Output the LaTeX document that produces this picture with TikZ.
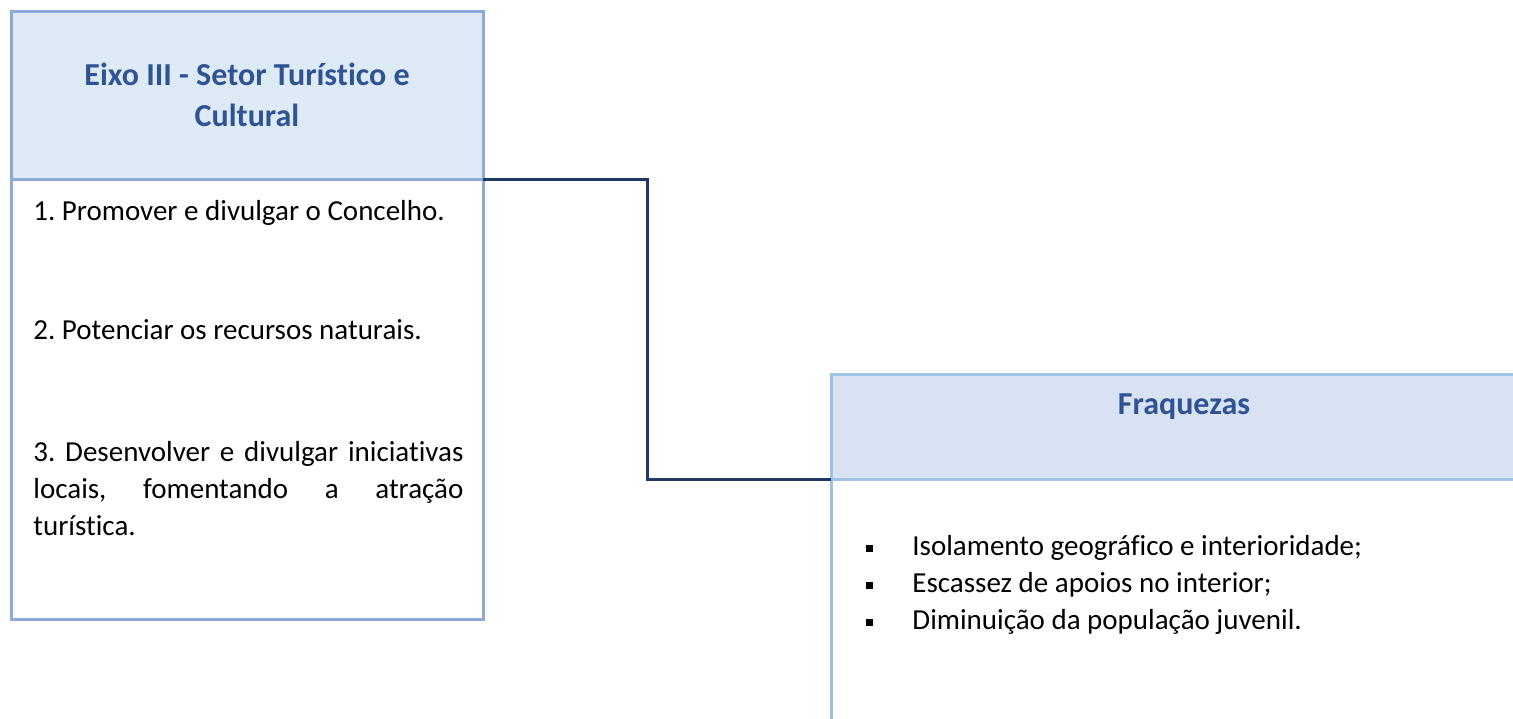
\documentclass[tikz,border=0pt]{standalone}
\usepackage{fontspec}
\setmainfont{Carlito}[Ligatures=NoCommon]
\definecolor{boxline}{HTML}{8EAADB}
\definecolor{boxline2}{HTML}{9DC3E6}
\definecolor{headfill}{HTML}{DEEAF6}
\definecolor{headfill2}{HTML}{D9E2F3}
\definecolor{titleblue}{HTML}{2F5496}
\definecolor{linkblue}{HTML}{1F3864}
\tikzset{
    box/.style = {draw = boxline, line width = 1.5pt, inner sep = 0pt, outer sep = 0pt, anchor = north west},
    headbox/.style = {box, fill = headfill, minimum width = 236pt, minimum height = 84pt,
        align = center, font = \fontsize{16}{20.5}\selectfont\bfseries, text = titleblue},
    bodybox/.style = {box, minimum width = 236pt, minimum height = 220pt},
    itemtxt/.style = {anchor = base west, inner sep = 0pt, font = \fontsize{14.5}{18.5}\selectfont},
    link/.style = {draw = linkblue, line width = 1.5pt},
    bul/.style = {fill = black, inner sep = 0pt, minimum size = 3.5pt}
}
\frenchspacing
\begin{document}
\begin{tikzpicture}[x=0.5pt, y=-0.5pt]
    \useasboundingbox (0, 0) rectangle (1513, 718);
    \clip (0, 0) rectangle (1513, 718);
    \node[headbox] (eixo) at (11, 11) {Eixo III - Setor Turístico e\\Cultural};
    \node[bodybox] (eixobody) at (eixo.south west) {};
    \node[itemtxt] (obj1) at (33, 220) {1. Promover e divulgar o Concelho.};
    \node[itemtxt] (obj2) at (33, 339) {2. Potenciar os recursos naturais.};
    \node[itemtxt, text width = 215pt, align = justify] (obj3) at (33, 461)
        {3. Desenvolver e divulgar iniciativas\linebreak locais, fomentando a atração\linebreak turística.};
    \node[box, draw = boxline2, fill = headfill2, minimum width = 400pt, minimum height = 52.5pt] (fraq) at (831, 374) {};
    \node[box, draw = boxline2, minimum width = 400pt, minimum height = 200pt] (fraqbody) at (fraq.south west) {};
    \node[font = \fontsize{16}{18}\selectfont\bfseries, text = titleblue] (fraqtitle) at (1184, 407) {Fraquezas};
    \foreach \t [count = \i] in {Isolamento geográfico e interioridade;, Escassez de apoios no interior;, Diminuição da população juvenil.} {
        \node[bul] (bul\i) at (869, 511 + 37 * \i) {};
        \node[itemtxt] (fq\i) at (912, 518 + 37 * \i) {\t};
    }
    \draw[link] (eixo.south east) -- ++(164, 0) |- (fraq.south west);
\end{tikzpicture}
\end{document}
